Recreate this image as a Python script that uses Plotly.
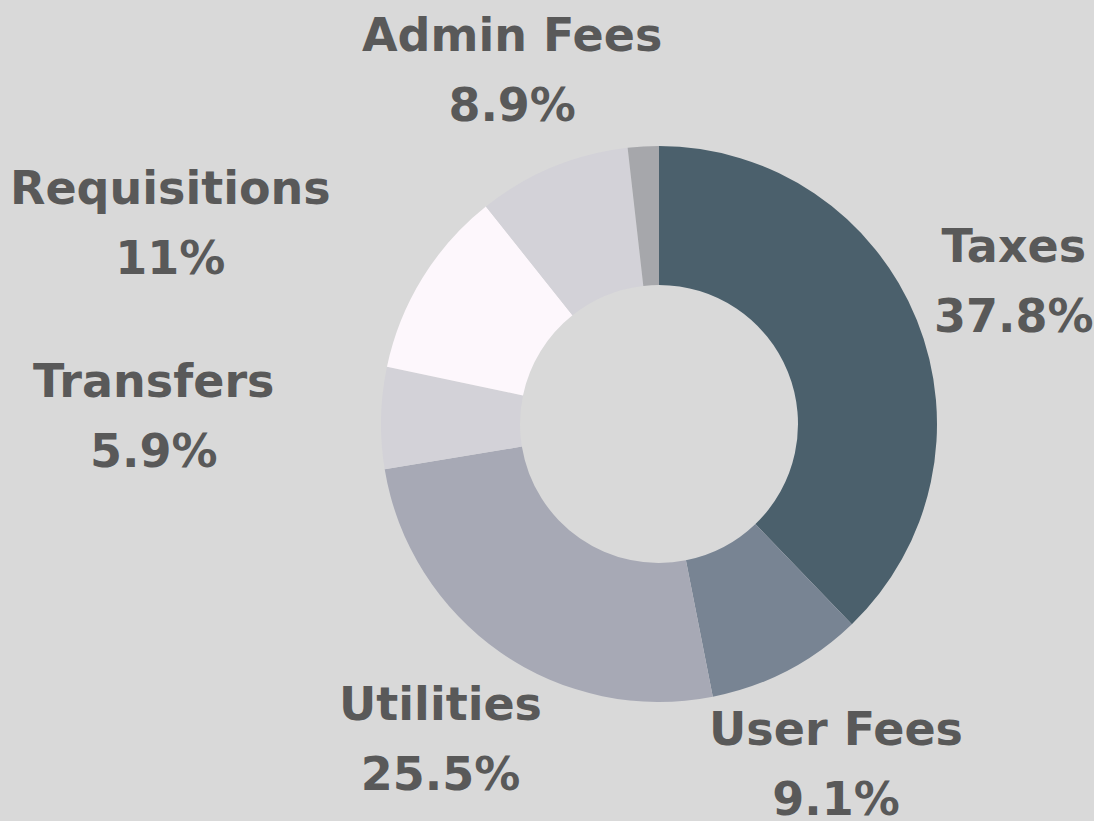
import math
import plotly.graph_objects as go

labels = ["Taxes", "User Fees", "Utilities", "Transfers", "Requisitions", "Admin Fees", "Other"]
values = [37.8, 9.1, 25.5, 5.9, 11.0, 8.9, 1.8]
colors = ["#4b606c", "#788493", "#a7a9b5", "#d3d2d8", "#fdf7fc", "#d3d2d8", "#a6a7ab"]
show_label = [True, True, True, True, True, True, False]
label_xanchor = ["center", "center", "center", "right", "right", "center", "center"]

W, H = 1094, 821
dom_x = [381 / W, 937 / W]
dom_y = [119 / H, 675 / H]
R_PX = (dom_x[1] - dom_x[0]) * W / 2
LABEL_DIST = 1.378
TEXT_COLOR = "#595959"
FONT = "DejaVu Sans"
GLYPH_SIZE = 46      # visible glyph size
LINE_SIZE = 54       # controls line spacing (1.3em)

fig = go.Figure(go.Pie(
    labels=labels,
    values=values,
    hole=0.5,
    sort=False,
    direction="clockwise",
    rotation=0,
    marker=dict(colors=colors, line=dict(width=0)),
    textinfo="none",
    hoverinfo="label+percent",
    domain=dict(x=dom_x, y=dom_y),
    showlegend=False,
))

total = sum(values)
cx = (dom_x[0] + dom_x[1]) / 2
cy = (dom_y[0] + dom_y[1]) / 2
cum = 0.0
annotations = []
for lab, v, show, xa in zip(labels, values, show_label, label_xanchor):
    mid = (cum + v / 2) / total
    cum += v
    if not show:
        continue
    theta = 2 * math.pi * mid
    x = cx + LABEL_DIST * R_PX * math.sin(theta) / W
    y = cy + LABEL_DIST * R_PX * math.cos(theta) / H
    pct = round(v / total * 100, 1)
    pct_txt = (f"{pct:.1f}".rstrip("0").rstrip(".")) + "%"
    span = f"<span style='font-size:{GLYPH_SIZE}px'>"
    txt = f"{span}{lab}</span><br>{span}{pct_txt}</span>"
    annotations.append(dict(
        x=x, y=y, xref="paper", yref="paper",
        text=txt, showarrow=False, align="center",
        xanchor=xa, yanchor="middle",
        font=dict(family=FONT, size=LINE_SIZE, color=TEXT_COLOR, weight="bold"),
    ))

fig.update_layout(
    width=W, height=H,
    margin=dict(l=0, r=0, t=0, b=0),
    paper_bgcolor="#d9d9d9",
    plot_bgcolor="#d9d9d9",
    annotations=annotations,
)

fig.write_html(
    "out.html",
    config={"displayModeBar": False},
    post_script="document.body.style.margin='0';document.body.style.overflow='hidden';",
)
